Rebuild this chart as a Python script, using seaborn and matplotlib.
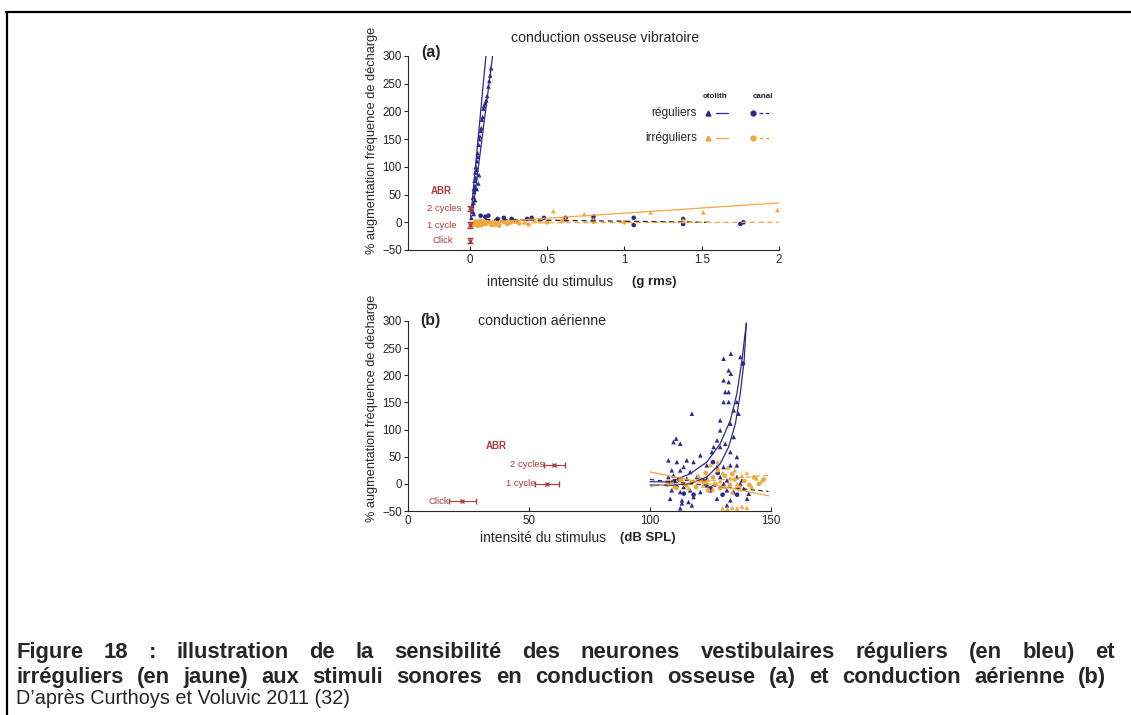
import numpy as np
import pandas as pd
import seaborn as sns
import matplotlib.pyplot as plt
from matplotlib.lines import Line2D

W, H = 1131, 715
BLUE = '#2d2a8c'
ORANGE = '#f2a73c'
RED = '#b23a3a'
DARK = '#222222'

# ---------- panel (a): bone conduction, g rms ----------
a_reg_oto_x = [0.010, 0.012, 0.015, 0.019, 0.021, 0.024, 0.026, 0.028, 0.031, 0.033, 0.036, 0.038,
               0.040, 0.044, 0.047, 0.050, 0.053, 0.057, 0.061, 0.065, 0.070, 0.074, 0.078, 0.083,
               0.088, 0.092, 0.100, 0.106, 0.112, 0.120, 0.126, 0.132, 0.138, 0.045, 0.055, 0.035,
               0.025, 0.060]
a_reg_oto_y = [8, 22, 30, 20, 45, 35, 60, 55, 75, 65, 90, 80, 100, 95, 110, 125, 118, 140, 150, 155,
               165, 170, 185, 190, 205, 210, 215, 220, 228, 245, 255, 265, 278, 60, 70, 40, 15, 85]
a_reg_can_x = [0.07, 0.10, 0.12, 0.18, 0.22, 0.27, 0.30, 0.37, 0.40, 0.48, 0.62, 0.80, 0.80, 1.06,
               1.06, 1.38, 1.38, 1.75, 1.77]
a_reg_can_y = [12, 10, 12, 6, 8, 6, 2, 6, 8, 8, 8, 10, 3, 8, -5, 6, -3, -3, 0]
a_irr_oto_x = [0.03, 0.05, 0.07, 0.09, 0.11, 0.13, 0.16, 0.20, 0.25, 0.30, 0.35, 0.42, 0.54, 0.62,
               0.74, 0.80, 1.17, 1.51, 1.99]
a_irr_oto_y = [-3, 0, -5, 2, -2, 1, -4, 3, -1, 2, 0, 3, 20, 5, 15, 5, 18, 18, 22]
a_irr_can_x = [0.02, 0.03, 0.04, 0.05, 0.06, 0.07, 0.08, 0.09, 0.10, 0.12, 0.14, 0.15, 0.17, 0.19,
               0.22, 0.24, 0.27, 0.32, 0.38, 0.45, 0.50, 0.60, 0.80, 1.00, 1.38]
a_irr_can_y = [-5, -2, 2, -6, -1, 3, -4, 0, -3, 2, -5, 0, -2, -6, 1, -3, 0, -2, -4, 2, 0, 3, 1, 0, 2]

# fitted lines (a)
a_fit1_x, a_fit1_y = [0.006, 0.104], [10, 300]
a_fit2_x, a_fit2_y = [0.017, 0.147], [16, 300]
a_canal_reg_x, a_canal_reg_y = [0.10, 1.55], [5, 0]
a_oto_irr_x, a_oto_irr_y = [0.0, 2.0], [-2, 35]
a_canal_irr_x, a_canal_irr_y = [0.0, 2.0], [-1, 0]

# ABR thresholds (a)
a_abr_labels = ['2 cycles', '1 cycle', 'Click']
a_abr_x = [0.0, 0.0, 0.0]
a_abr_y = [25, -5, -33]
a_abr_err = [5, 5, 5]

# ---------- panel (b): air conduction, dB SPL ----------
b_reg_oto = [(133.4, 239.8), (130.4, 230.6), (137.3, 233.7), (132.5, 209.1), (133.4, 203.0),
             (130.4, 190.7), (132.5, 187.6), (131.1, 169.2), (132.5, 169.2), (130.4, 150.8),
             (132.5, 150.8), (135.9, 150.8), (134.6, 135.4), (136.6, 129.3), (117.3, 129.3),
             (129.0, 117.0), (133.2, 110.9), (129.0, 98.6), (134.6, 86.3), (127.7, 80.2),
             (131.1, 74.0), (109.7, 77.1), (110.8, 83.3), (112.5, 74.0), (126.3, 67.9),
             (129.0, 67.9), (125.6, 58.7), (133.2, 58.7), (135.9, 49.5), (120.8, 52.6),
             (115.2, 43.3), (118.0, 40.3), (123.5, 34.1), (107.6, 43.3), (111.1, 40.3),
             (113.9, 31.1), (127.7, 31.1), (130.4, 31.1), (133.2, 34.1), (135.9, 34.1),
             (109.0, 24.9), (112.5, 24.9), (116.6, 21.9), (109.7, 15.7), (107.6, 12.6),
             (115.2, 9.6), (119.4, 12.6), (123.5, 9.6), (129.0, 12.6), (131.8, 6.5),
             (135.9, 12.6), (138.0, 6.5), (108.3, 0.4), (111.1, -2.7), (113.9, -5.8),
             (123.5, -2.7), (130.4, 0.4), (137.3, 0.4), (109.0, -11.9), (112.5, -15.0),
             (116.6, -11.9), (120.8, -15.0), (124.9, -11.9), (131.8, -11.9), (134.6, -15.0),
             (138.7, -8.8), (108.3, -27.3), (113.2, -30.3), (118.0, -24.2), (127.7, -27.3),
             (133.2, -30.3), (140.8, -18.1), (140.1, -27.3), (113.2, -35.9), (115.9, -33.4),
             (117.3, -39.5), (131.8, -39.5), (112.5, -45.0)]
b_reg_can = [(138.4, 221.4), (110, 5), (112, 8), (118, -20), (122, 5), (125, -8), (128, 20),
             (136, -20), (108, 0), (114, -18), (130, -20), (126, 40)]
b_irr_oto = [(108, 5), (110, -5), (112, 10), (114, 0), (116, -8), (118, 5), (120, 15), (122, -3),
             (124, 8), (125, 35), (126, -10), (128, 40), (129, 5), (130, 20), (131, -5), (132, 30),
             (133, 10), (134, -15), (135, 25), (136, 0), (137, -10), (138, 15), (140, 20),
             (142, -5), (144, 10), (146, 5), (130, -45), (132, -46), (134, -44), (136, -45),
             (138, -42), (140, -44)]
b_irr_can = [(107, -2), (109, 3), (111, -8), (113, 5), (115, -3), (117, 2), (119, -6), (121, 8),
             (123, 0), (124, -12), (126, 12), (127, 0), (129, -8), (131, 15), (133, -2), (135, 8),
             (137, -6), (139, 5), (141, -2), (143, 12), (145, 0), (147, 8), (128, 25), (134, 18),
             (123, 20)]

# fitted curves (b)
b_fit1_x = [100, 108.3, 116.6, 123.5, 129.0, 133.2, 135.9, 138.0, 139.8]
b_fit1_y = [4, 3.4, 18.7, 40.3, 74, 117, 166, 227.5, 296]
b_fit2_x = [100, 108.3, 116.6, 123.5, 129.0, 132.5, 135.3, 137.3, 138.9, 139.8]
b_fit2_y = [-2, -2.7, 0.4, 12.6, 37, 68, 111, 166, 227.5, 296]
b_canal_reg_x, b_canal_reg_y = [100, 149], [8, -14]
b_oto_irr_x, b_oto_irr_y = [100, 149], [22, -22]
b_canal_irr_x, b_canal_irr_y = [100, 149], [-5, 16]

b_abr_labels = ['2 cycles', '1 cycle', 'Click']
b_abr_x = [60.5, 57.5, 22.5]
b_abr_y = [35, 0, -32]
b_abr_xerr = [4.2, 5.0, 5.5]

sns.set_style('ticks')
plt.rcParams['font.family'] = ['Liberation Sans', 'DejaVu Sans']

fig = plt.figure(figsize=(W / 100, H / 100), dpi=100)


def fx(px):
    return px / W


def fy(py):
    return 1 - py / H


def make_df(groups):
    rows = []
    for name, pts in groups.items():
        for x, y in pts:
            rows.append({'x': x, 'y': y, 'group': name})
    return pd.DataFrame(rows)


palette = {'reg_oto': BLUE, 'reg_can': BLUE, 'irr_oto': ORANGE, 'irr_can': ORANGE}
markers = {'reg_oto': '^', 'reg_can': 'o', 'irr_oto': '^', 'irr_can': 'o'}


def style_axis(ax, xlim, xticks, xticklabels):
    ax.set_xlim(*xlim)
    ax.set_ylim(-50, 300)
    ax.set_xticks(xticks)
    ax.set_xticklabels(xticklabels)
    ax.set_yticks([300, 250, 200, 150, 100, 50, 0, -50])
    ax.tick_params(axis='y', direction='out', length=3, width=0.8, labelsize=8.3, pad=1.5)
    ax.tick_params(axis='x', direction='in', length=3, width=0.8, labelsize=8.3, pad=3)
    for s in ['top', 'right']:
        ax.spines[s].set_visible(False)
    for s in ['left', 'bottom']:
        ax.spines[s].set_linewidth(0.8)
    ax.set_xlabel('')
    ax.set_ylabel('')
    ax.patch.set_alpha(0)


# ---- panel (a)
ax1 = fig.add_axes([fx(408), fy(250), fx(779) - fx(408), fy(56) - fy(250)])
df_a = make_df({
    'reg_oto': list(zip(a_reg_oto_x, a_reg_oto_y)),
    'reg_can': list(zip(a_reg_can_x, a_reg_can_y)),
    'irr_oto': list(zip(a_irr_oto_x, a_irr_oto_y)),
    'irr_can': list(zip(a_irr_can_x, a_irr_can_y)),
})
sns.scatterplot(data=df_a, x='x', y='y', hue='group', style='group', palette=palette,
                markers=markers, s=11, linewidth=0, legend=False, ax=ax1, clip_on=False)
ax1.plot(a_fit1_x, a_fit1_y, color=BLUE, lw=0.9)
ax1.plot(a_fit2_x, a_fit2_y, color=BLUE, lw=0.9)
ax1.plot(a_canal_reg_x, a_canal_reg_y, color=DARK, lw=0.9, ls=(0, (4, 3)))
ax1.plot(a_oto_irr_x, a_oto_irr_y, color=ORANGE, lw=0.9)
ax1.plot(a_canal_irr_x, a_canal_irr_y, color=ORANGE, lw=0.9, ls=(0, (4, 3)))
ax1.errorbar(a_abr_x, a_abr_y, yerr=a_abr_err, fmt='x', color=RED, ms=3, mew=1,
             elinewidth=0.8, capsize=2, clip_on=False)
ax1.text(-0.253, 57, 'ABR', color=RED, fontsize=7, fontweight='bold', va='center')
for lab, ypos, xr in zip(a_abr_labels, a_abr_y, [-0.055, -0.085, -0.106]):
    ax1.text(xr, ypos, lab, color=RED, fontsize=6.8, ha='right', va='center')
style_axis(ax1, (-0.4, 2), [0, 0.5, 1, 1.5, 2], ['0', '0.5', '1', '1.5', '2'])

# ---- panel (b)
ax2 = fig.add_axes([fx(408), fy(511), fx(771) - fx(408), fy(321) - fy(511)])
df_b = make_df({'reg_oto': b_reg_oto, 'reg_can': b_reg_can,
                'irr_oto': b_irr_oto, 'irr_can': b_irr_can})
sns.scatterplot(data=df_b, x='x', y='y', hue='group', style='group', palette=palette,
                markers=markers, s=11, linewidth=0, legend=False, ax=ax2, clip_on=False)
ax2.plot(b_fit1_x, b_fit1_y, color=BLUE, lw=0.9)
ax2.plot(b_fit2_x, b_fit2_y, color=BLUE, lw=0.9)
ax2.plot(b_canal_reg_x, b_canal_reg_y, color=DARK, lw=0.8, ls=(0, (4, 3)))
ax2.plot(b_oto_irr_x, b_oto_irr_y, color=ORANGE, lw=0.9)
ax2.plot(b_canal_irr_x, b_canal_irr_y, color=ORANGE, lw=0.9, ls=(0, (4, 3)))
ax2.errorbar(b_abr_x, b_abr_y, xerr=b_abr_xerr, fmt='x', color=RED, ms=3, mew=1,
             elinewidth=0.8, capsize=2)
ax2.text(32, 70, 'ABR', color=RED, fontsize=7, fontweight='bold', va='center')
for lab, ypos, xerr, xc in zip(b_abr_labels, b_abr_y, b_abr_xerr, b_abr_x):
    ax2.text(xc - xerr, ypos, lab, color=RED, fontsize=6.8, ha='right', va='center')
style_axis(ax2, (0, 150), [0, 50, 100, 150], ['0', '50', '100', '150'])

# ---- panel titles and labels
fig.text(fx(605), fy(38), 'conduction osseuse vibratoire', fontsize=10.2, ha='center', va='center')
fig.text(fx(421), fy(53), '(a)', fontsize=11.5, fontweight='bold', va='center')
fig.text(fx(420), fy(321), '(b)', fontsize=11.5, fontweight='bold', va='center')
fig.text(fx(478), fy(321), 'conduction aérienne', fontsize=10.2, va='center')
for cy in [140, 408]:
    fig.text(fx(372), fy(cy), '% augmentation fréquence de décharge', fontsize=9.2,
             rotation=90, ha='center', va='center')
fig.text(fx(487), fy(282), 'intensité du stimulus', fontsize=10, va='center')
fig.text(fx(632), fy(282), '(g rms)', fontsize=9.5, fontweight='bold', va='center')
fig.text(fx(480), fy(538), 'intensité du stimulus', fontsize=10, va='center')
fig.text(fx(620), fy(538), '(dB SPL)', fontsize=9.5, fontweight='bold', va='center')

# ---- custom legend
fig.text(fx(715), fy(96), 'otolith', fontsize=5.8, fontweight='bold', ha='center', va='center')
fig.text(fx(763), fy(96), 'canal', fontsize=5.8, fontweight='bold', ha='center', va='center')
for py, label, col in [(113, 'réguliers', BLUE), (138, 'irréguliers', ORANGE)]:
    fig.text(fx(697), fy(py), label, fontsize=8.6, ha='right', va='center')
    fig.add_artist(Line2D([fx(708)], [fy(py)], marker='^', ms=3.5, color=col, lw=0,
                          transform=fig.transFigure))
    fig.add_artist(Line2D([fx(716), fx(728)], [fy(py), fy(py)], color=col, lw=0.9,
                          transform=fig.transFigure))
    fig.add_artist(Line2D([fx(753)], [fy(py)], marker='o', ms=3.5, color=col, lw=0,
                          transform=fig.transFigure))
    fig.add_artist(Line2D([fx(759), fx(772)], [fy(py), fy(py)], color=col, lw=0.9,
                          ls=(0, (3, 2)), transform=fig.transFigure))

# ---- frame lines
fig.add_artist(Line2D([fx(6), fx(1131)], [fy(12), fy(12)], color='black', lw=1.6,
                      transform=fig.transFigure))
fig.add_artist(Line2D([fx(7), fx(7)], [fy(12), fy(715)], color='black', lw=1.6,
                      transform=fig.transFigure))

# ---- caption (justified bold lines, plain source line)
cap1 = ('Figure 18 : illustration de la sensibilité des neurones vestibulaires '
        'réguliers (en bleu) et')
cap2 = ('irréguliers (en jaune) aux stimuli sonores en conduction osseuse (a) '
        'et conduction aérienne (b)')
cap3 = 'D\u2019après Curthoys et Voluvic 2011 (32)'
renderer = fig.canvas.get_renderer()


def justify(text, py, x0, x1, size):
    words = text.split(' ')
    objs = [fig.text(0, fy(py), w, fontsize=size, fontweight='bold', va='baseline')
            for w in words]
    widths = [t.get_window_extent(renderer).width for t in objs]
    gap = (x1 - x0 - sum(widths)) / (len(words) - 1)
    xpos = x0
    for t, w in zip(objs, widths):
        t.set_x(fx(xpos))
        xpos += w + gap


justify(cap1, 658, 16, 1115, 15.8)
justify(cap2, 683, 16, 1106, 15.8)
fig.text(fx(16), fy(704), cap3, fontsize=14.3, va='baseline')

fig.savefig('out.png', dpi=100)
